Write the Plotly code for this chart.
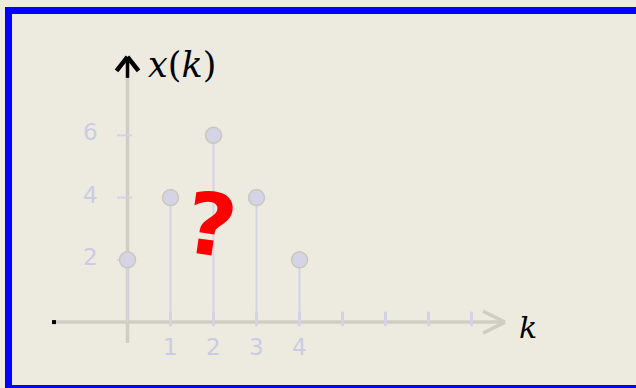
import plotly.graph_objects as go

# Discrete signal x(k)
k_values = [0, 1, 2, 3, 4]
x_values = [2, 4, 6, 4, 2]

x_tick_values = [1, 2, 3, 4, 5, 6, 7, 8]
x_tick_labels = ["1", "2", "3", "4"]
y_tick_values = [2, 4, 6]
y_tick_labels = ["2", "4", "6"]

W, H = 636, 388
BG = "#edebe0"
AXIS_GRAY = "#d0cec3"
LAVENDER = "#d3d3e7"
LABEL_LAV = "#cbcbe4"

# Data <-> pixel scale (margins are zero, so axes fill the page)
K0_PX, K_STEP = 127.5, 43.0
V0_PX, V_STEP = 322.1, 31.13
x_range = [-K0_PX / K_STEP, (W - K0_PX) / K_STEP]
y_range = [(V0_PX - H) / V_STEP, V0_PX / V_STEP]
dk = 1.0 / K_STEP   # one pixel in k units
dv = 1.0 / V_STEP   # one pixel in value units

fig = go.Figure()

shapes = []

def seg(x0, y0, x1, y1, color, width):
    shapes.append(dict(type="line", xref="x", yref="y", x0=x0, y0=y0,
                       x1=x1, y1=y1, line=dict(color=color, width=width),
                       layer="below"))

# horizontal axis with open arrowhead
k_start, k_tip = -1.71, 8.78
seg(k_start, 0, k_tip - 3 * dk, 0, AXIS_GRAY, 3.5)
seg(k_tip - 22 * dk, 11 * dv, k_tip, 0, AXIS_GRAY, 3.5)
seg(k_tip - 22 * dk, -11 * dv, k_tip, 0, AXIS_GRAY, 3.5)

# vertical axis, black arrow at the top
v_bottom, v_tip = -0.67, 8.52
seg(0, v_bottom, 0, v_tip - 21 * dv, AXIS_GRAY, 3.5)
seg(0, v_tip - 21 * dv, 0, v_tip - 2 * dv, "black", 3.5)
seg(-11 * dk, v_tip - 14 * dv, 0, v_tip, "black", 4.5)
seg(11 * dk, v_tip - 14 * dv, 0, v_tip, "black", 4.5)

# ticks
for t in x_tick_values:
    seg(t, 10.5 * dv, t, -4 * dv, LAVENDER, 3)
for t in y_tick_values:
    seg(-10.5 * dk, t, 4.5 * dk, t, LAVENDER, 2)

# frame
shapes.append(dict(type="rect", xref="paper", yref="paper",
                   x0=8.5 / W, x1=1.05, y0=1 - 388.5 / H, y1=1 - 10.5 / H,
                   line=dict(color="#0000ff", width=7), fillcolor="rgba(0,0,0,0)"))

# stems
stem_x, stem_y = [], []
for k, v in zip(k_values, x_values):
    stem_x += [k, k, None]
    stem_y += [0, v, None]
fig.add_trace(go.Scatter(x=stem_x, y=stem_y, mode="lines",
                         line=dict(color=LAVENDER, width=2), hoverinfo="skip"))

# stem heads
fig.add_trace(go.Scatter(x=k_values, y=x_values, mode="markers",
                         marker=dict(size=16, color="#d4d4e6",
                                     line=dict(color="#cac8bd", width=1.5))))

# origin dot at the start of the horizontal axis
fig.add_trace(go.Scatter(x=[k_start], y=[0], mode="markers",
                         marker=dict(symbol="square", size=4, color="black")))

annotations = []
for t, lab in zip(x_tick_values, x_tick_labels):
    annotations.append(dict(x=t, y=0, yshift=-25, text=lab, showarrow=False,
                            xanchor="center", yanchor="middle",
                            font=dict(family="DejaVu Sans", size=23, color=LABEL_LAV)))
for t, lab in zip(y_tick_values, y_tick_labels):
    annotations.append(dict(x=0, y=t, xshift=-37, yshift=3, text=lab, showarrow=False,
                            xanchor="center", yanchor="middle",
                            font=dict(family="DejaVu Sans", size=23, color=LABEL_LAV)))

annotations.append(dict(x=0, y=v_tip, xshift=18, yshift=-8,
                        text="<i>x</i>(<i>k</i>)", showarrow=False,
                        xanchor="left", yanchor="middle",
                        font=dict(family="DejaVu Serif", size=35, color="black")))
annotations.append(dict(x=k_tip, y=0, xshift=12, yshift=-5,
                        text="<i>k</i>", showarrow=False,
                        xanchor="left", yanchor="middle",
                        font=dict(family="DejaVu Serif", size=30, color="black")))
annotations.append(dict(x=1.94, y=3.12, text="<b>?</b>", showarrow=False,
                        xanchor="center", yanchor="middle", textangle=8,
                        font=dict(family="DejaVu Sans", size=86, color="#ff0000")))

fig.update_layout(
    width=W, height=H,
    margin=dict(l=0, r=0, t=0, b=0),
    paper_bgcolor=BG, plot_bgcolor=BG,
    showlegend=False,
    shapes=shapes,
    annotations=annotations,
    xaxis=dict(range=x_range, visible=False, fixedrange=True),
    yaxis=dict(range=y_range, visible=False, fixedrange=True),
)

fig.write_html("out.html")
